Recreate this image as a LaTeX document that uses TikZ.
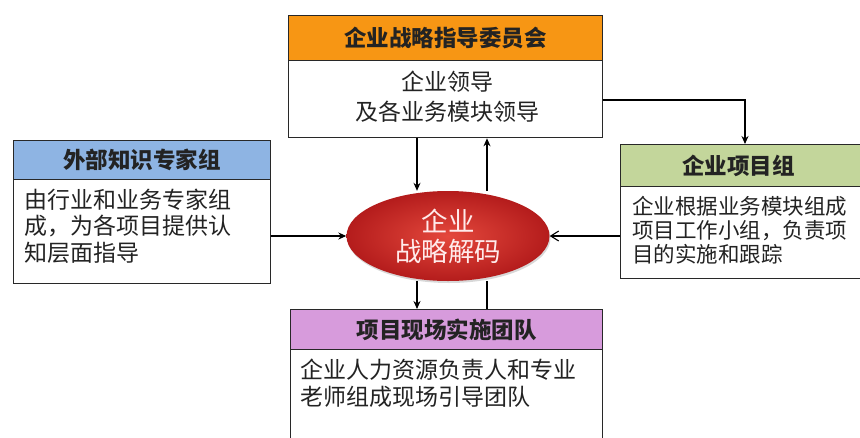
\documentclass[tikz,border=0pt]{standalone}
\usepackage{fontspec}
\setmainfont{Noto Sans CJK SC}
\usetikzlibrary{shapes.geometric,arrows.meta,shadows}
\definecolor{hdrorange}{RGB}{247,150,20}
\definecolor{hdrblue}{RGB}{142,180,227}
\definecolor{hdrgreen}{RGB}{195,214,155}
\definecolor{hdrpurple}{RGB}{215,155,220}
\definecolor{boxline}{RGB}{40,40,40}
\definecolor{ellin}{RGB}{228,72,60}
\definecolor{ellout}{RGB}{180,28,28}
\definecolor{txt}{RGB}{35,35,35}
\tikzset{
  hdr/.style={draw=boxline, line width=1.3pt, inner sep=0pt, anchor=north west, text=txt, font=\fontsize{22.5}{26}\selectfont\bfseries},
  bodybox/.style={draw=boxline, line width=1.3pt, fill=white, inner sep=0pt, anchor=north west},
  bodytxt/.style={text=txt, font=\fontsize{23}{26.5}\selectfont, align=left, anchor=west, inner sep=0pt},
  conn/.style={line width=1.1pt, draw=black},
  tip/.style={-{Stealth[length=8pt,width=7pt]}},
}
\begin{document}
\begin{tikzpicture}[x=1pt,y=-1pt]
\useasboundingbox[fill=white] (0,0) rectangle (860,437);
\clip (0,0) rectangle (860,437);
% top box
\node[hdr, fill=hdrorange, minimum width=314pt, minimum height=45pt] (tophdr) at (288,15) {企业战略指导委员会};
\node[bodybox, minimum width=314pt, minimum height=77pt] (topbody) at (288,60) {};
\node[text=txt, font=\fontsize{23}{30}\selectfont, align=center] (toptxt) at (447,97) {企业领导\\及各业务模块领导};
% left box
\node[hdr, fill=hdrblue, minimum width=257pt, minimum height=39pt] (lefthdr) at (13,140) {外部知识专家组};
\node[bodybox, minimum width=257pt, minimum height=104pt] (leftbody) at (13,179) {};
\node[bodytxt] (lefttxt) at (24,226) {由行业和业务专家组\\成，为各项目提供认\\知层面指导};
% right box
\node[hdr, fill=hdrgreen, minimum width=250pt, minimum height=42pt, text width=240pt, align=center] (righthdr) at (620,144) {\hspace*{-7pt}企业项目组\hspace*{7pt}};
\node[bodybox, minimum width=250pt, minimum height=92pt] (rightbody) at (620,186) {};
\node[bodytxt, font=\fontsize{21.5}{24}\selectfont] (righttxt) at (632,230) {企业根据业务模块组成\\项目工作小组，负责项\\目的实施和跟踪};
% bottom box
\node[hdr, fill=hdrpurple, minimum width=312pt, minimum height=40pt] (bothdr) at (290,309) {项目现场实施团队};
\node[bodybox, minimum width=312pt, minimum height=100pt] (botbody) at (290,349) {};
\node[bodytxt] (bottxt) at (300,383) {企业人力资源负责人和专业\\老师组成现场引导团队};
% ellipse
\node[ellipse, minimum width=203pt, minimum height=90pt, inner color=ellin, outer color=ellout, draw=none,
      drop shadow={shadow xshift=1pt, shadow yshift=-2pt, opacity=0.3},
      text=white!92!red, font=\fontsize{26.5}{30}\selectfont, align=center] (core) at (448,236) {企业\\战略解码};
% connectors
\draw[conn, tip] (topbody.south -| 417,0) -- (core.north -| 417,0);
\draw[conn, tip] (core.north -| 487,0) -- (topbody.south -| 487,0);
\draw[conn, tip] (core.south -| 417,0) -- (bothdr.north -| 417,0);
\draw[conn] (bothdr.north -| 487,0) -- (core.south -| 487,0);
\draw[conn, tip] (leftbody.east |- 0,236) -- (core.west);
\draw[conn, -{Straight Barb[length=8pt,width=10pt]}] (rightbody.west |- 0,236) -- (core.east);
\coordinate (bend) at (745,100);
\draw[conn, tip] (topbody.east |- bend) -- (bend) -- (righthdr.north -| bend);
\end{tikzpicture}
\end{document}
